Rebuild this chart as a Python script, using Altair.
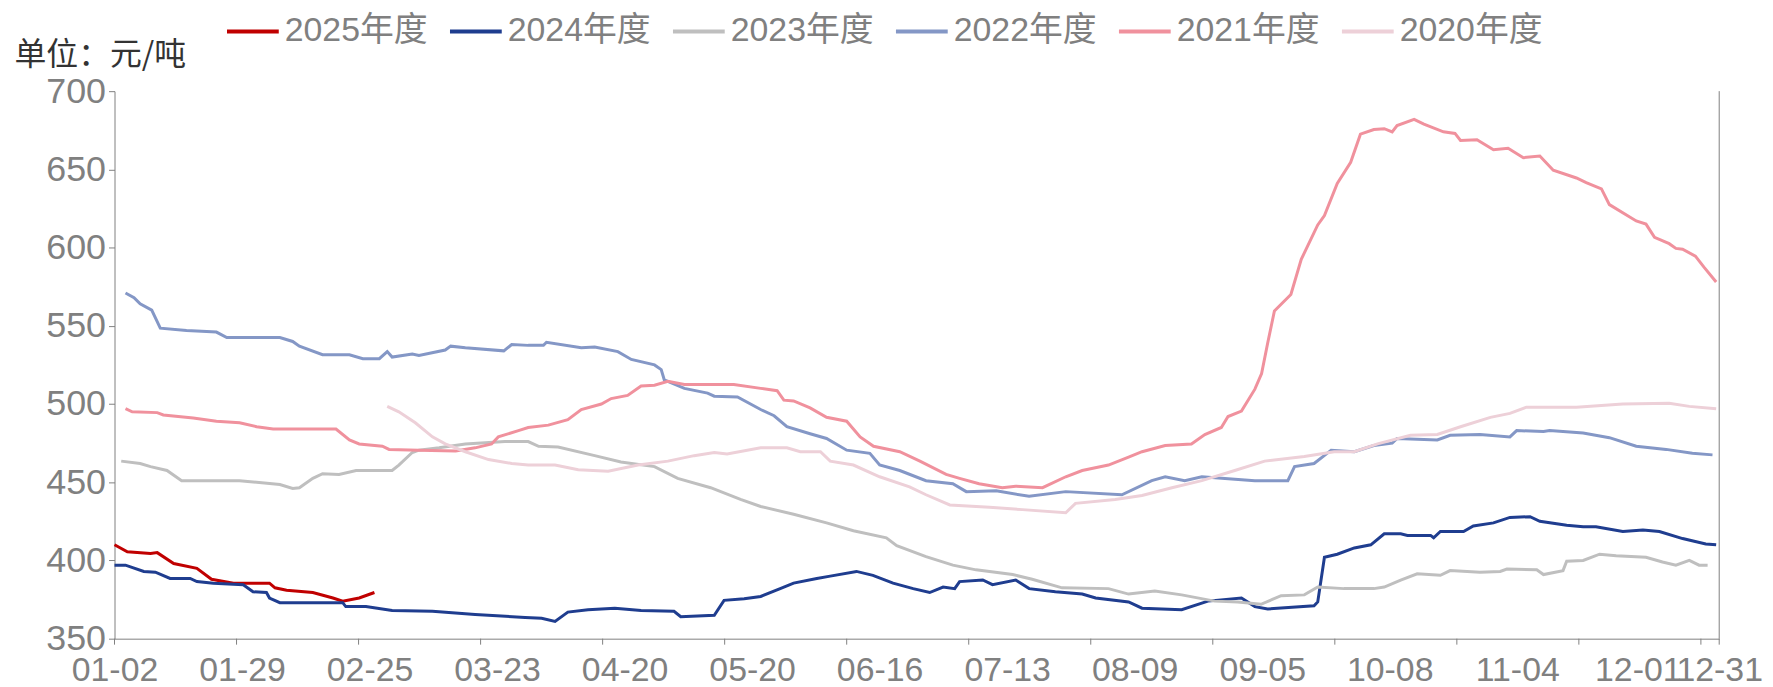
import json
import pandas as pd
import altair as alt

FONT = "Liberation Sans, Noto Sans CJK SC, sans-serif"

series_names = ["2025年度", "2024年度", "2023年度", "2022年度", "2021年度", "2020年度"]
series_colors = ["#C00000", "#1F3D8F", "#BFBFBF", "#8497C6", "#F0919D", "#EDD0D8"]

# x = trading-day position (category index), y = 元/吨
x_2025 = [0, 2.1, 5.9, 7, 9.7, 13.5, 15.9, 19.5, 25.4, 26.3, 28.2, 32.5, 35.8, 37.4, 40.1, 42.6]
y_2025 = [410, 405.5, 404.5, 405, 398, 395, 388, 385.5, 385.5, 382.5, 381, 379.5, 376, 374, 376, 379.5]

x_2024 = [0, 1.8, 4.8, 6.7, 9.1, 12.4, 13.5, 16.2, 21.1, 22.7, 24.9, 25.4, 27.1, 37.4, 37.9, 41.2, 45.5,
          52.1, 59.1, 67.3, 70.0, 72.2, 74.3, 77.6, 82.0, 86.3, 91.7, 92.8, 98.3, 99.9, 103.2, 105.9,
          109.1, 111.3, 115.1, 117.3, 121.6, 124.3, 127.6, 130.9, 133.6, 135.8, 137.7, 138.5, 142.3,
          143.9, 147.7, 149.9, 154.2, 158.6, 160.8, 166.2, 168.4, 174.9, 179.2, 184.7, 186.9, 189.0,
          196.6, 197.2, 198.3, 200.4, 203.2, 205.9, 208.1, 210.8, 211.9, 215.7, 216.2, 217.3, 221.1,
          222.7, 226.0, 228.7, 232.0, 233.6, 238.0, 240.7, 242.8, 247.2, 250.5, 253.2, 257.0, 260.8, 262.5]
y_2024 = [397, 397, 393, 392.5, 388.5, 388.5, 386.5, 385.5, 384.5, 380, 379.5, 376, 373, 373, 370.5,
          370.5, 368, 367.5, 365.5, 363.5, 363, 361, 367, 368.5, 369.5, 368, 367.5, 364, 365, 374.5,
          375.5, 377, 382, 385.5, 388.5, 390, 393, 390.5, 385.5, 382, 379.5, 383, 382, 386.5, 387.5,
          384.5, 387.5, 382, 380, 378.5, 376, 373.5, 369.5, 368.5, 374, 376, 370.5, 369, 371, 373.5,
          402, 404, 408, 410, 417, 417, 416, 416, 414.5, 418.5, 418.5, 422, 424, 427.5, 428, 425,
          422.5, 421.5, 421.5, 418.5, 419.5, 418.5, 414, 410.5, 410]

x_2023 = [1.1, 4.2, 5.9, 8.6, 11, 20.5, 27.1, 29.2, 30.3, 32.5, 34.1, 36.8, 39.6, 45.5, 46.6, 48.8,
          49.9, 53.2, 57.5, 64, 67.8, 69.5, 72.7, 78.7, 83, 88.5, 92.3, 97.7, 102.6, 105.9, 111.3,
          116.7, 121.1, 126.5, 128.2, 133, 137.4, 141.2, 147.2, 150.4, 155.3, 162.9, 166.2, 170.5,
          174.9, 180.3, 184.1, 187.9, 191.2, 195, 197.2, 201.5, 206.4, 208.1, 210.8, 213.5, 217.3,
          218.9, 223.8, 227.1, 228.2, 233.1, 234.2, 237.4, 238, 240.7, 243.4, 246.1, 251, 253.7,
          255.9, 258.1, 259.7, 261.1]
y_2023 = [463.5, 462, 460, 457.5, 451, 451, 448.5, 446, 446.5, 452.5, 455.5, 455, 457.5, 457.5, 461,
          469, 470.5, 472, 474.5, 476, 476, 473, 472.5, 467, 463, 460, 452.5, 446.5, 439, 434.5,
          429.5, 424, 419, 414.5, 409.5, 402.5, 397, 394, 391, 388, 382.5, 382, 378.5, 380.5, 378,
          374, 373.5, 372, 377.5, 378, 383, 382, 382, 383, 387.5, 391.5, 390.5, 393.5, 392.5, 393,
          394.5, 394, 391, 393.5, 399.5, 400, 404, 403, 402, 399, 397, 400, 397, 397]

x_2022 = [1.8, 3.2, 4.2, 6.1, 7.5, 11.8, 16.7, 18.4, 27.1, 29.2, 30.3, 34.1, 38.5, 40.7, 43.4, 44.7,
          45.5, 48.8, 49.9, 54.2, 55.1, 57.5, 63.8, 65.1, 67.8, 70.3, 70.8, 76.5, 78.7, 82.5, 84.7,
          88.5, 89.6, 90.1, 93.4, 97.2, 98.3, 102.1, 105.9, 108.1, 110.2, 114, 116.7, 120, 123.8,
          125.4, 128.7, 133, 137.4, 139.6, 144.5, 149.9, 155.9, 165.1, 170, 172.2, 175.4, 178.2,
          186.9, 192.3, 193.4, 196.6, 199.4, 203.2, 206.4, 209.4, 210.2, 216.8, 218.9, 223.8, 228.7,
          229.8, 234.2, 235.2, 240.7, 245, 249.4, 254.3, 258.6, 261.9]
y_2022 = [571, 568, 564, 560, 548.5, 547, 546, 542.5, 542.5, 540, 537, 531.5, 531.5, 529, 529, 533.5,
          530, 532, 531, 534.5, 537, 536, 534, 538, 537.5, 537.5, 539.5, 536, 536.5, 533.5, 528.5,
          525, 522, 515.5, 510, 507, 505, 504.5, 496.5, 492.5, 485.5, 481, 478, 470.5, 468.5, 461,
          457.5, 451, 449, 444, 444.5, 441, 444, 442, 451, 453.5, 451, 453.5, 451, 451, 460, 462,
          470.5, 469.5, 473.5, 475, 478, 477, 480, 480.5, 479, 483, 482.5, 483, 481.5, 478.5, 473,
          471, 468.5, 467.5]

x_2021 = [1.8, 2.9, 7, 8, 12.9, 16.7, 20.5, 23.3, 26, 36.3, 38.5, 40.1, 43.9, 45, 49.9, 55.9, 59.1,
          61.8, 62.9, 66.2, 67.8, 71.1, 74.3, 76.5, 79.8, 81.4, 84.1, 86.3, 88.5, 90.7, 93.4, 96.1,
          101.5, 105.9, 108.6, 109.7, 111.3, 114, 116.7, 120, 122.2, 124.4, 128.7, 132, 136.3, 138.5,
          141.7, 145.5, 147.7, 152.1, 155.9, 158.6, 162.9, 166.2, 168.4, 172.2, 176.5, 178.7, 181.4,
          182.5, 184.7, 186.9, 188, 189, 190.1, 192.8, 194.5, 197.2, 198.3, 200.4, 202.6, 204.2,
          206.4, 208.1, 209.4, 210.2, 213, 214.6, 217.8, 219.7, 220.6, 223.3, 226, 228.4, 230.9,
          233.6, 235.8, 239.6, 241.2, 243.7, 245, 249.4, 251, 252.4, 254.8, 255.9, 257, 259.1,
          260.5, 262.5]
y_2021 = [497, 495, 494.5, 493, 491, 489, 488, 485.5, 484, 484, 477, 474.5, 473, 471, 470.5, 470, 472,
          474.5, 479, 483, 485, 486.5, 490, 496.5, 500, 503.5, 505.5, 511.5, 512, 514.5, 512.5, 512.5,
          512.5, 510, 508.5, 502.5, 502, 497.5, 491.5, 489, 479, 473, 469.5, 463.5, 455, 452.5, 449,
          446.5, 447.5, 446.5, 453.5, 457.5, 461, 466, 469.5, 473.5, 474.5, 480.5, 485, 492, 495.5,
          509.5, 519.5, 539, 559.5, 570, 592.5, 614.5, 620.5, 641, 654.5, 672.5, 675.5, 676, 674,
          678, 682, 679, 674, 673, 668.5, 669, 662.5, 663.5, 657.5, 658.5, 649.5, 644.5, 641.5,
          637.5, 627.5, 617, 615, 606.5, 602.5, 599.5, 599, 594.5, 587.5, 578]

x_2020 = [44.7, 46.6, 49.3, 52.1, 54.2, 57.5, 61.3, 65.1, 67.8, 72.2, 76, 80.9, 85.8, 90.7, 95, 98.3,
          100.4, 105.9, 110.2, 112.4, 115.7, 117.3, 121.1, 125.4, 130.3, 133, 136.9, 143.4, 148.8,
          155.9, 157.5, 164, 168.4, 173.3, 178.2, 183.6, 188.5, 195, 199.9, 203.2, 207, 212.4, 216.8,
          220.6, 225.5, 228.7, 231.4, 239.6, 247.2, 254.8, 258.1, 262.5]
y_2020 = [498.5, 495, 488, 479, 474.5, 469.5, 464.5, 462, 461, 461, 458, 457, 461, 463.5, 467, 469,
          468, 472, 472, 469.5, 469.5, 463.5, 461, 453.5, 447, 442, 435.5, 434, 432.5, 430.5, 436.5,
          439, 441.5, 446.5, 451, 457.5, 463.5, 466.5, 469.5, 469.5, 474.5, 480, 480.5, 485.5, 491.5,
          494, 498, 498, 500, 500.5, 498.5, 497]

tick_labels = ["01-02", "01-29", "02-25", "03-23", "04-20", "05-20", "06-16", "07-13",
               "08-09", "09-05", "10-08", "11-04", "12-01", "12-31"]
label_pos = [0, 20.9, 41.8, 62.7, 83.6, 104.5, 125.4, 146.3, 167.2, 188.1, 209.0, 229.9, 250.8, 263]
tick_pos = [0, 20, 40, 60, 80, 100, 120, 140, 160, 180, 200, 220, 240, 260, 263]
x_max = 263
y_ticks = [350, 400, 450, 500, 550, 600, 650, 700]

xs = [x_2025, x_2024, x_2023, x_2022, x_2021, x_2020]
ys = [y_2025, y_2024, y_2023, y_2022, y_2021, y_2020]
rows = []
for k, (name, xv, yv) in enumerate(zip(series_names, xs, ys)):
    for a, b in zip(xv, yv):
        rows.append({"series": name, "idx": a, "value": b, "k": k})
df = pd.DataFrame(rows)

x_scale = alt.Scale(domain=[0, x_max], nice=False, zero=False)
y_scale = alt.Scale(domain=[350, 700], nice=False, zero=False)
label_expr = f"{json.dumps(tick_labels)}[indexof({json.dumps(label_pos)}, datum.value)]"

GRAY = "#808080"

x_axis = alt.Axis(values=label_pos, labelExpr=label_expr, ticks=False, grid=False, title=None,
                  labelFontSize=34, labelColor=GRAY, labelFont=FONT, labelPadding=15,
                  domainColor=GRAY, labelOverlap=False, labelFlush=False,
                  labelOffset={"condition": {"test": "datum.value == 250.8", "value": -7}, "value": 0})
y_axis = alt.Axis(values=y_ticks, grid=False, title="单位：元/吨", titleAngle=0,
                  titleX=-101, titleY=-37, titleAlign="left", titleBaseline="middle",
                  titleFontSize=32, titleFont="Noto Sans CJK SC", titleFontWeight="normal",
                  titleColor="#333333", labelFontSize=36, labelColor=GRAY, labelFont=FONT,
                  tickColor=GRAY, tickSize=6, domainColor=GRAY, labelPadding=3)

lines = alt.Chart(df).mark_line(strokeWidth=3).encode(
    x=alt.X("idx:Q", scale=x_scale, axis=x_axis),
    y=alt.Y("value:Q", scale=y_scale, axis=y_axis),
    color=alt.Color("series:N", scale=alt.Scale(domain=series_names, range=series_colors),
                    legend=alt.Legend(title=None, orient="none", legendX=111, legendY=-88,
                                      direction="horizontal", symbolType="stroke", symbolSize=2704,
                                      symbolStrokeWidth=4, labelFontSize=34, labelColor=GRAY,
                                      labelFont=FONT, columnPadding=14, labelOffset=4, padding=0)),
    order=alt.Order("k:Q"),
)

ticks = alt.Chart(pd.DataFrame({"t": tick_pos})).mark_rule(color=GRAY, strokeWidth=1).encode(
    x=alt.X("t:Q", scale=x_scale, axis=x_axis),
    y=alt.value(550), y2=alt.value(556),
)

frame = alt.Chart(pd.DataFrame({"t": [x_max], "top": [700], "bottom": [350]})).mark_rule(
    color=GRAY, strokeWidth=1).encode(
    x=alt.X("t:Q", scale=x_scale, axis=x_axis),
    y=alt.Y("top:Q", scale=y_scale, axis=y_axis),
    y2="bottom:Q",
)

chart = alt.layer(lines, ticks, frame).properties(
    width=1612, height=550,
    autosize=alt.AutoSizeParams(type="none"),
    padding={"left": 107, "top": 82, "right": 46, "bottom": 47},
).configure_view(stroke=None)

chart.save("out.html", embed_options={"renderer": "svg", "actions": False})
